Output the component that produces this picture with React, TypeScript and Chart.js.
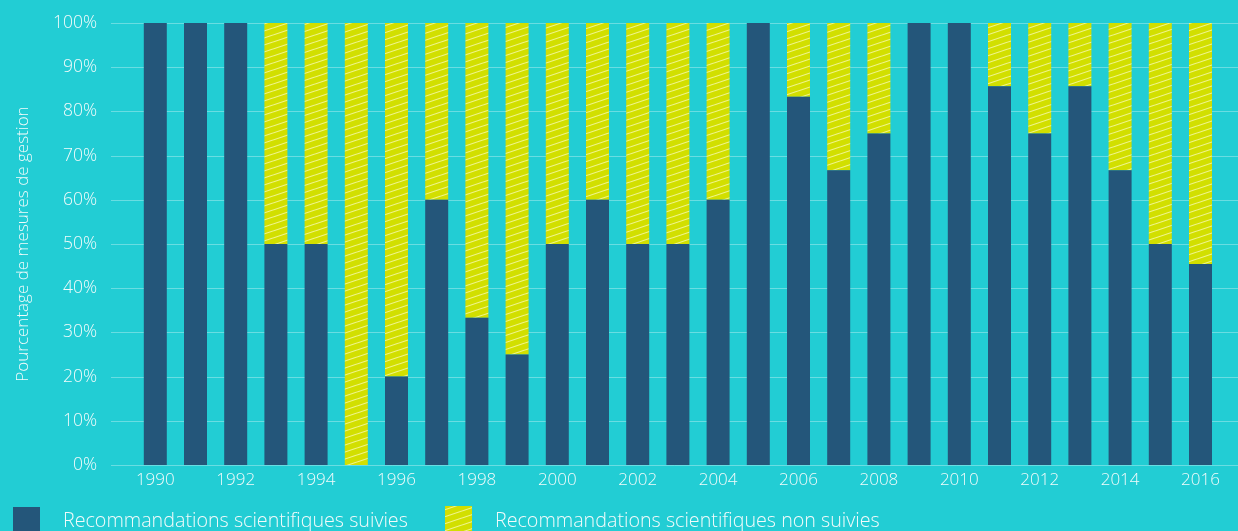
import React, { useEffect, useRef } from 'react';
import { Chart, registerables } from 'chart.js';

Chart.register(...registerables);

const years = [
  '1990', '1991', '1992', '1993', '1994', '1995', '1996', '1997', '1998', '1999',
  '2000', '2001', '2002', '2003', '2004', '2005', '2006', '2007', '2008', '2009',
  '2010', '2011', '2012', '2013', '2014', '2015', '2016',
];
const suivies = [
  100, 100, 100, 50, 50, 0, 20, 60, 33.3, 25,
  50, 60, 50, 50, 60, 100, 83.3, 66.7, 75, 100,
  100, 85.7, 75, 85.7, 66.7, 50, 45.5,
];
const nonSuivies = [
  0, 0, 0, 50, 50, 100, 80, 40, 66.7, 75,
  50, 40, 50, 50, 40, 0, 16.7, 33.3, 25, 0,
  0, 14.3, 25, 14.3, 33.3, 50, 54.5,
];
const yTickValues = [0, 10, 20, 30, 40, 50, 60, 70, 80, 90, 100];
const seriesLabels = [
  'Recommandations scientifiques suivies',
  'Recommandations scientifiques non suivies',
];
const yTitle = 'Pourcentage de mesures de gestion';

const BG = '#22cdd4';
const DARK = '#24567a';
const YELLOW = '#d2df00';
const TEXT = '#f2fbfb';
const GRID = 'rgba(255,255,255,0.32)';
const FONT = '"Open Sans"';

function makeHatch(ctxMain: CanvasRenderingContext2D) {
  const c = document.createElement('canvas');
  c.width = 21;
  c.height = 7;
  const ctx = c.getContext('2d')!;
  ctx.fillStyle = YELLOW;
  ctx.fillRect(0, 0, 21, 7);
  ctx.strokeStyle = 'rgba(255,255,215,0.65)';
  ctx.lineWidth = 1.1;
  for (const dy of [-7, 0, 7]) {
    ctx.beginPath();
    ctx.moveTo(0, 7 + dy);
    ctx.lineTo(21, dy);
    ctx.stroke();
  }
  return ctxMain.createPattern(c, 'repeat')!;
}

export default function App() {
  const ref = useRef<HTMLCanvasElement>(null);

  useEffect(() => {
    const canvas = ref.current!;
    const ctx = canvas.getContext('2d')!;
    const hatch = makeHatch(ctx);

    const decor = {
      id: 'decor',
      beforeDraw(chart: any) {
        const c = chart.ctx;
        c.save();
        c.fillStyle = BG;
        c.fillRect(0, 0, chart.width, chart.height);
        c.restore();
      },
      beforeDatasetsDraw(chart: any) {
        const c = chart.ctx;
        const y = chart.scales.y;
        c.save();
        c.strokeStyle = GRID;
        c.lineWidth = 1;
        for (const v of yTickValues) {
          const py = Math.round(y.getPixelForValue(v)) + 0.5;
          c.beginPath();
          c.moveTo(111, py);
          c.lineTo(chart.width, py);
          c.stroke();
        }
        c.restore();
      },
      afterDraw(chart: any) {
        const c = chart.ctx;
        c.save();
        c.fillStyle = DARK;
        c.fillRect(13, 507, 27, 28);
        c.fillStyle = hatch;
        c.fillRect(445, 506, 27, 28);
        c.fillStyle = TEXT;
        c.font = `300 19.7px ${FONT}`;
        c.textBaseline = 'alphabetic';
        c.textAlign = 'left';
        c.fillText(seriesLabels[0], 63, 527);
        c.fillText(seriesLabels[1], 495, 527);
        c.restore();
      },
    };

    const chart = new Chart(canvas, {
      type: 'bar',
      data: {
        labels: years,
        datasets: [
          {
            label: seriesLabels[0],
            data: suivies,
            backgroundColor: DARK,
            borderWidth: 0,
            categoryPercentage: 1,
            barPercentage: 0.572,
          },
          {
            label: seriesLabels[1],
            data: nonSuivies,
            backgroundColor: hatch,
            borderWidth: 0,
            categoryPercentage: 1,
            barPercentage: 0.572,
          },
        ],
      },
      options: {
        responsive: false,
        animation: false,
        layout: { padding: { top: 23, right: 17.4, bottom: 0, left: 0 } },
        plugins: {
          legend: { display: false },
          tooltip: { enabled: false },
        },
        scales: {
          x: {
            stacked: true,
            grid: { display: false, drawTicks: false },
            border: { display: false },
            ticks: {
              autoSkip: false,
              maxRotation: 0,
              minRotation: 0,
              padding: 5,
              color: TEXT,
              font: { family: FONT, size: 17, weight: '300' as any },
              callback: (_v: any, i: number) => (i % 2 === 0 ? years[i] : ''),
            },
            afterFit: (s: any) => {
              s.height = 66;
            },
          },
          y: {
            stacked: true,
            min: 0,
            max: 100,
            grid: { display: false, drawTicks: false },
            border: { display: false },
            ticks: {
              stepSize: 10,
              padding: 38,
              color: TEXT,
              font: { family: FONT, size: 17.5, weight: '300' as any },
              callback: (v: any) => `${v}%`,
            },
            title: {
              display: true,
              text: yTitle,
              color: TEXT,
              font: { family: FONT, size: 17, weight: '300' as any },
              padding: { top: 13, bottom: 0 },
            },
            afterFit: (s: any) => {
              s.width = 135.2;
              s.paddingTop = 0;
              s.paddingBottom = 0;
            },
          },
        },
      },
      plugins: [decor],
    });

    return () => chart.destroy();
  }, []);

  return (
    <div
      style={{
        position: 'absolute',
        left: 0,
        top: 0,
        width: 1238,
        height: 531,
        background: BG,
        overflow: 'hidden',
      }}
    >
      <canvas ref={ref} width={1238} height={531} style={{ display: 'block' }} />
    </div>
  );
}
